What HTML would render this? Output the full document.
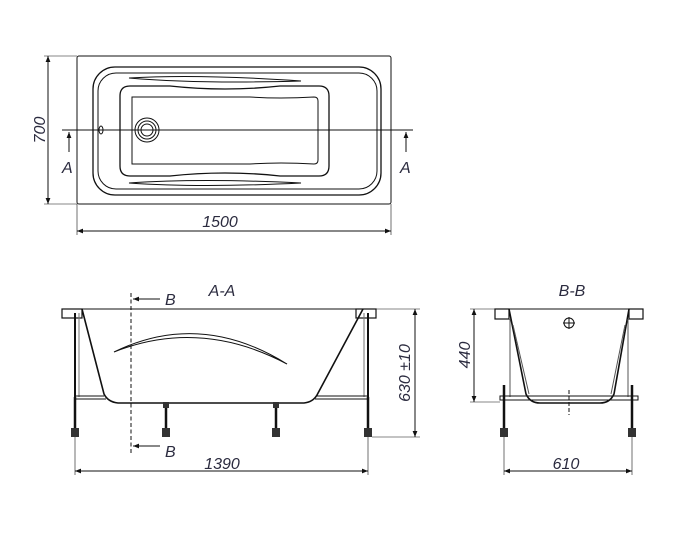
<!DOCTYPE html>
<html><head><meta charset="utf-8"><style>
html,body{margin:0;padding:0;background:#fff;}
svg{display:block}
text{font-family:"Liberation Sans",sans-serif;font-style:italic;font-size:16px;fill:#2b2b3f;}
</style></head><body>
<svg width="690" height="540" viewBox="0 0 690 540" xmlns="http://www.w3.org/2000/svg">
<defs>
<marker id="ar" viewBox="0 0 10 10" refX="10" refY="5" markerWidth="8" markerHeight="6" orient="auto-start-reverse" markerUnits="userSpaceOnUse"><path d="M0,1 L10,5 L0,9 z" fill="#111"/></marker>
</defs>
<g fill="none" stroke="#111" stroke-width="1">
<rect x="77" y="56" width="314" height="148" rx="2"/>
<rect x="93" y="67" width="288" height="128" rx="22" stroke-width="1.3"/>
<rect x="98" y="73" width="279" height="116" rx="18"/>
<path d="M120,96 Q120,86 130,86 L170,86 Q225,92 280,86 L319,86 Q329,86 329,96 L329,166 Q329,176 319,176 L280,176 Q225,170 170,176 L130,176 Q120,176 120,166 Z" stroke-width="1.3"/>
<path d="M132,97 L250,97 Q280,99 314,97 Q318,97 318,101 L318,160 Q318,164 314,164 Q280,162 250,164 L132,164 Z"/>
<path d="M129,78 Q200,74 301,81 Q200,84 129,78 Z"/>
<path d="M129,183 Q200,178 301,183 Q200,188 129,183 Z"/>
<circle cx="147" cy="130" r="12"/><circle cx="147" cy="130" r="9"/><circle cx="147" cy="130" r="6"/>
<ellipse cx="101" cy="130" rx="2" ry="4"/>
<line x1="62" y1="130" x2="413" y2="130"/>
<line x1="69" y1="152" x2="69" y2="132" marker-end="url(#ar)"/>
<line x1="406" y1="152" x2="406" y2="132" marker-end="url(#ar)"/>
<line x1="48" y1="56" x2="48" y2="204" marker-start="url(#ar)" marker-end="url(#ar)"/>
<line x1="44" y1="56" x2="77" y2="56" stroke-width=".6"/>
<line x1="44" y1="204" x2="77" y2="204" stroke-width=".6"/>
<line x1="77" y1="204" x2="77" y2="235" stroke-width=".6"/>
<line x1="391" y1="204" x2="391" y2="235" stroke-width=".6"/>
<line x1="77" y1="231" x2="391" y2="231" marker-start="url(#ar)" marker-end="url(#ar)"/>

<line x1="62" y1="309" x2="376" y2="309"/>
<rect x="62" y="309" width="20" height="9" stroke-width="1.2"/>
<rect x="356" y="309" width="20" height="9" stroke-width="1.2"/>
<path d="M82,309 L104,394 Q108,402 118,403 L304,403 Q313,402 317,395 L363,309" stroke-width="1.6"/>
<path d="M114,352 Q200,310 287,364 Q200,318 114,352 Z"/>
<line x1="75" y1="313" x2="75" y2="397" stroke-width="2"/><line x1="79" y1="313" x2="79" y2="397" stroke="#777"/>
<line x1="368" y1="313" x2="368" y2="397" stroke-width="2"/><line x1="364" y1="313" x2="364" y2="397" stroke="#777"/>
<line x1="75" y1="396" x2="104" y2="396"/><line x1="75" y1="399" x2="106" y2="399"/>
<line x1="317" y1="396" x2="368" y2="396"/><line x1="315" y1="399" x2="368" y2="399"/>
<g stroke-width="2.5">
<line x1="75" y1="397" x2="75" y2="435"/><line x1="166" y1="403" x2="166" y2="435"/>
<line x1="276" y1="403" x2="276" y2="435"/><line x1="368" y1="397" x2="368" y2="435"/>
</g>
<g fill="#333" stroke="none">
<rect x="71" y="428" width="8" height="9"/><rect x="162" y="428" width="8" height="9"/>
<rect x="272" y="428" width="8" height="9"/><rect x="364" y="428" width="8" height="9"/>
<rect x="163" y="402" width="6" height="6"/><rect x="273" y="402" width="6" height="6"/>
</g>
<line x1="131" y1="293" x2="131" y2="453" stroke-dasharray="4,2.5"/>
<line x1="160" y1="299" x2="133" y2="299" marker-end="url(#ar)"/>
<line x1="160" y1="446" x2="133" y2="446" marker-end="url(#ar)"/>
<line x1="376" y1="309" x2="420" y2="309" stroke-width=".6"/>
<line x1="372" y1="437" x2="420" y2="437" stroke-width=".6"/>
<line x1="415" y1="309" x2="415" y2="437" marker-start="url(#ar)" marker-end="url(#ar)"/>
<line x1="75" y1="437" x2="75" y2="475" stroke-width=".6"/>
<line x1="368" y1="437" x2="368" y2="475" stroke-width=".6"/>
<line x1="75" y1="471" x2="368" y2="471" marker-start="url(#ar)" marker-end="url(#ar)"/>

<line x1="495" y1="309" x2="643" y2="309"/>
<rect x="495" y="309" width="14" height="10" stroke-width="1.2"/>
<rect x="629" y="309" width="14" height="10" stroke-width="1.2"/>
<path d="M509,309 L526,394 Q530,403 540,403 L600,403 Q610,403 614,394 L629,309" stroke-width="1.6"/>
<path d="M513,325 L529,394 M625,325 L611,394" stroke="#555"/>
<line x1="510" y1="319" x2="510" y2="397" stroke="#555"/>
<line x1="628" y1="319" x2="628" y2="397" stroke="#555"/>
<rect x="500" y="396" width="138" height="4"/>
<circle cx="569" cy="323" r="5"/><line x1="563" y1="323" x2="575" y2="323"/><line x1="569" y1="317" x2="569" y2="329"/>
<line x1="569" y1="390" x2="569" y2="415" stroke-dasharray="4,2"/>
<g stroke-width="2.5"><line x1="504" y1="385" x2="504" y2="435"/><line x1="632" y1="385" x2="632" y2="435"/></g>
<g fill="#333" stroke="none"><rect x="500" y="428" width="8" height="9"/><rect x="628" y="428" width="8" height="9"/></g>
<line x1="470" y1="309" x2="495" y2="309" stroke-width=".6"/>
<line x1="470" y1="402" x2="500" y2="402" stroke-width=".6"/>
<line x1="474" y1="309" x2="474" y2="402" marker-start="url(#ar)" marker-end="url(#ar)"/>
<line x1="504" y1="437" x2="504" y2="475" stroke-width=".6"/>
<line x1="632" y1="437" x2="632" y2="475" stroke-width=".6"/>
<line x1="504" y1="471" x2="632" y2="471" marker-start="url(#ar)" marker-end="url(#ar)"/>
</g>

<text x="62" y="173">A</text>
<text x="400" y="173">A</text>
<text transform="translate(45,130) rotate(-90)" text-anchor="middle">700</text>
<text x="220" y="227" text-anchor="middle">1500</text>
<text x="222" y="296" text-anchor="middle">A-A</text>
<text x="165" y="305">B</text>
<text x="165" y="457">B</text>
<text transform="translate(410,373) rotate(-90)" text-anchor="middle">630 ±10</text>
<text x="222" y="469" text-anchor="middle">1390</text>
<text x="572" y="296" text-anchor="middle">B-B</text>
<text transform="translate(470,355) rotate(-90)" text-anchor="middle">440</text>
<text x="566" y="469" text-anchor="middle">610</text>
</svg>
</body></html>
